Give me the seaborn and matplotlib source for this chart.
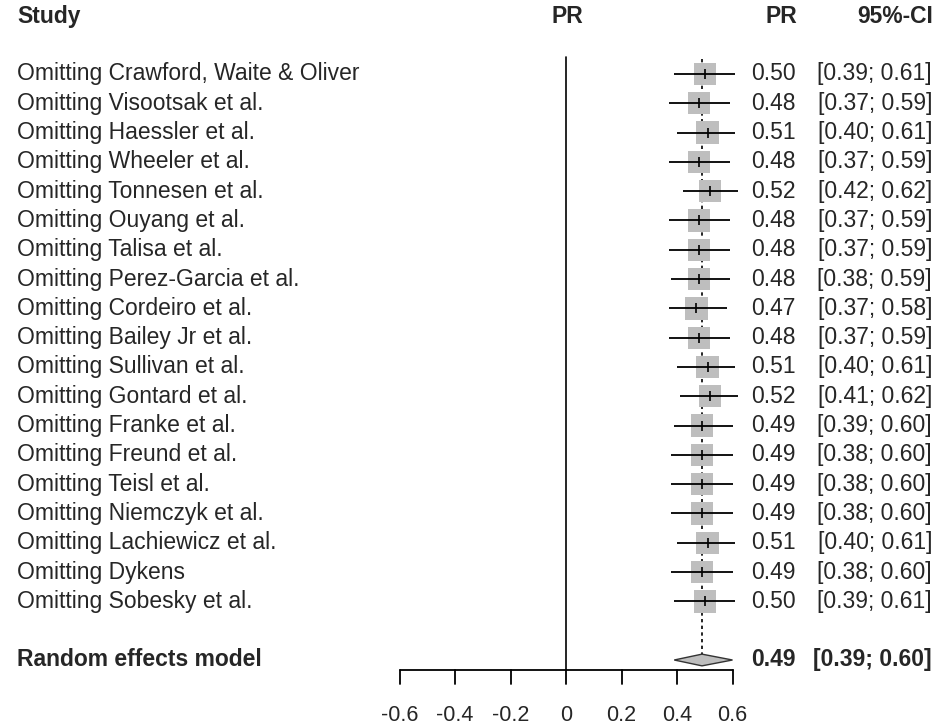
import matplotlib
matplotlib.use("Agg")
import matplotlib.pyplot as plt
import matplotlib.transforms as mtransforms
from matplotlib.patches import Polygon
import numpy as np
import pandas as pd
import seaborn as sns

# Leave-one-out sensitivity results (pooled proportion, 95% CI)
studies = [
    "Omitting Crawford, Waite & Oliver", "Omitting Visootsak et al.",
    "Omitting Haessler et al.", "Omitting Wheeler et al.",
    "Omitting Tonnesen et al.", "Omitting Ouyang et al.",
    "Omitting Talisa et al.", "Omitting Perez-Garcia et al.",
    "Omitting Cordeiro et al.", "Omitting Bailey Jr et al.",
    "Omitting Sullivan et al.", "Omitting Gontard et al.",
    "Omitting Franke et al.", "Omitting Freund et al.",
    "Omitting Teisl et al.", "Omitting Niemczyk et al.",
    "Omitting Lachiewicz et al.", "Omitting Dykens",
    "Omitting Sobesky et al.",
]
pr = [0.50, 0.48, 0.51, 0.48, 0.52, 0.48, 0.48, 0.48, 0.47, 0.48,
      0.51, 0.52, 0.49, 0.49, 0.49, 0.49, 0.51, 0.49, 0.50]
lower = [0.39, 0.37, 0.40, 0.37, 0.42, 0.37, 0.37, 0.38, 0.37, 0.37,
         0.40, 0.41, 0.39, 0.38, 0.38, 0.38, 0.40, 0.38, 0.39]
upper = [0.61, 0.59, 0.61, 0.59, 0.62, 0.59, 0.59, 0.59, 0.58, 0.59,
         0.61, 0.62, 0.60, 0.60, 0.60, 0.60, 0.61, 0.60, 0.61]
re_label = "Random effects model"
re_pr, re_lower, re_upper = 0.49, 0.39, 0.60
x_ticks = [-0.6, -0.4, -0.2, 0, 0.2, 0.4, 0.6]
x_tick_labels = ["-0.6", "-0.4", "-0.2", "0", "0.2", "0.4", "0.6"]

sns.set_style("white")
plt.rcParams["font.family"] = ["Liberation Sans", "DejaVu Sans"]

df = pd.DataFrame({"study": studies, "pr": pr, "lower": lower, "upper": upper})
df["row"] = np.arange(len(df))
re_row = len(df) + 1

W, H, DPI = 940, 728, 100
fig = plt.figure(figsize=(W / DPI, H / DPI), dpi=DPI)
ax = fig.add_axes([0, 0, 1, 1])

# pixel geometry of the forest panel
x0_px, unit_px = 566.0, 277.5
row0_px, row_px = 74.0, 29.3
ax.set_xlim((0 - x0_px) / unit_px, (W - x0_px) / unit_px)
ax.set_ylim((H - row0_px) / row_px, (0 - row0_px) / row_px)
ax.axis("off")

fs = 16.5
grey = "#BEBEBE"

# reference line at zero and dashed line at the pooled estimate
ax.plot([0, 0], [-0.58, re_row + 0.33], color="black", lw=1.2, zorder=1)
ax.plot([re_pr, re_pr], [-0.5, re_row - 0.2], color="black", lw=1.2,
        ls=(0, (2.0, 2.0)), zorder=1)

# squares
sns.scatterplot(data=df, x="pr", y="row", marker="s", s=260, color=grey,
                edgecolor="none", linewidth=0, ax=ax, zorder=2, legend=False)
# confidence intervals
ax.hlines(df["row"], df["lower"], df["upper"], color="black", lw=1.3, zorder=3)
# estimate ticks
sns.scatterplot(data=df, x="pr", y="row", marker="|", s=55, color="black",
                linewidth=1.2, ax=ax, zorder=4, legend=False)

# pooled diamond
dh = 0.2
diamond = Polygon([[re_lower, re_row], [re_pr, re_row - dh],
                   [re_upper, re_row], [re_pr, re_row + dh]],
                  closed=True, facecolor=grey, edgecolor="#333333", lw=1.0, zorder=3)
ax.add_patch(diamond)

# x axis
axis_y = re_row + 0.33
tick_len = 0.48
ax.plot([x_ticks[0], x_ticks[-1]], [axis_y, axis_y], color="black", lw=1.3)
for t, lab in zip(x_ticks, x_tick_labels):
    ax.plot([t, t], [axis_y, axis_y + tick_len], color="black", lw=1.3)
    ax.text(t, axis_y + 1.57, lab, ha="center", va="center", fontsize=15.5)

# text columns
tr = mtransforms.blended_transform_factory(fig.transFigure, ax.transData)
head_y = (17 - row0_px) / row_px
pr_right, ci_right = 796 / W, 932 / W
ax.text(17 / W, head_y, "Study", transform=tr, ha="left", va="center",
        fontsize=fs, fontweight="bold")
ax.text(567 / W, head_y, "PR", transform=tr, ha="center", va="center",
        fontsize=fs, fontweight="bold")
ax.text(797 / W, head_y, "PR", transform=tr, ha="right", va="center",
        fontsize=fs, fontweight="bold")
ax.text(933 / W, head_y, "95%-CI", transform=tr, ha="right", va="center",
        fontsize=fs, fontweight="bold")

for r in df.itertuples():
    ax.text(17 / W, r.row, r.study, transform=tr, ha="left", va="center", fontsize=fs)
    ax.text(pr_right, r.row, f"{r.pr:.2f}", transform=tr, ha="right", va="center", fontsize=fs)
    ax.text(ci_right, r.row, f"[{r.lower:.2f}; {r.upper:.2f}]", transform=tr,
            ha="right", va="center", fontsize=fs)

ax.text(17 / W, re_row, re_label, transform=tr, ha="left", va="center",
        fontsize=fs, fontweight="bold")
ax.text(pr_right, re_row, f"{re_pr:.2f}", transform=tr, ha="right", va="center",
        fontsize=fs, fontweight="bold")
ax.text(ci_right, re_row, f"[{re_lower:.2f}; {re_upper:.2f}]", transform=tr,
        ha="right", va="center", fontsize=fs, fontweight="bold")

fig.savefig("out.png", dpi=DPI, facecolor="white")
